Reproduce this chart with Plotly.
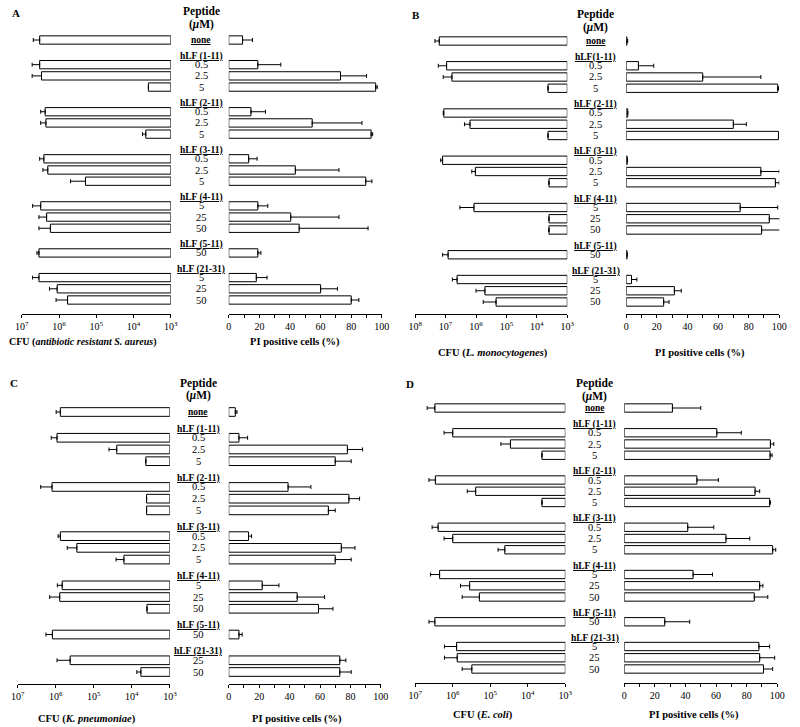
import math
import plotly.graph_objects as go

# ---------------- data ----------------
GROUPS_A = ["none", "hLF (1-11)", "hLF (2-11)", "hLF (3-11)", "hLF (4-11)", "hLF (5-11)", "hLF (21-31)"]
CONC_A = [[""], ["0.5", "2.5", "5"], ["0.5", "2.5", "5"], ["0.5", "2.5", "5"], ["5", "25", "50"], ["50"], ["5", "25", "50"]]
CFU_A = [3.3e6, 3.3e6, 2.95e6, 4.0e3, 2.35e6, 2.25e6, 4.7e3, 2.55e6, 2.0e6, 1.95e5, 3.1e6, 2.15e6, 1.7e6, 3.45e6, 3.45e6, 1.12e6, 5.9e5]
CFU_A_HI = [4.9e6, 5.25e6, 5.25e6, 4.0e3, 3.1e6, 3.1e6, 5.75e3, 3.3e6, 2.7e6, 4.9e5, 5.1e6, 3.45e6, 3.45e6, 3.9e6, 5.1e6, 1.8e6, 1.2e6]
PI_A = [9, 19, 73, 96, 14.5, 54.5, 93, 13, 43.5, 89.5, 19, 40.5, 46, 19, 18, 60, 80]
PI_A_HI = [15.5, 34, 90, 97, 24, 87, 94, 18.5, 72, 93.5, 25.5, 72, 91, 21, 25, 71, 85]

GROUPS_B = ["none", "hLF(1-11)", "hLF (2-11)", "hLF (3-11)", "hLF (4-11)", "hLF (5-11)", "hLF (21-31)"]
CONC_B = [[""], ["0.5", "2.5", "5"], ["0.5", "2.5", "5"], ["0.5", "2.5", "5"], ["5", "25", "50"], ["50"], ["5", "25", "50"]]
CFU_B = [1.62e7, 9.3e6, 6.2e6, 4.3e3, 1.15e7, 1.58e6, 4.3e3, 1.26e7, 1.05e6, 4.0e3, 1.17e6, 4.0e3, 4.0e3, 8.3e6, 4.2e6, 5.1e5, 2.2e5]
CFU_B_HI = [2.24e7, 1.74e7, 1.2e7, 4.3e3, 1.2e7, 2.4e6, 4.3e3, 1.45e7, 1.38e6, 4.0e3, 3.4e6, 4.0e3, 4.0e3, 1.26e7, 6.0e6, 1.0e6, 5.8e5]
PI_B = [0.5, 8, 50, 99, 1, 70, 99.5, 0.7, 88, 97.5, 74.5, 93.5, 88.5, 0.6, 3.5, 31.5, 24.5]
PI_B_HI = [1, 18, 88, 99.5, 1, 78.5, 99.5, 0.7, 100, 100, 99, 100.5, 101, 0.6, 7, 36, 28]

GROUPS_C = ["none", "hLF (1-11)", "hLF (2-11)", "hLF (3-11)", "hLF (4-11)", "hLF (5-11)", "hLF (21-31)"]
CONC_C = [[""], ["0.5", "2.5", "5"], ["0.5", "2.5", "5"], ["0.5", "2.5", "5"], ["5", "25", "50"], ["50"], ["25", "50"]]
CFU_C = [7.6e5, 9.3e5, 2.5e4, 4.3e3, 1.26e6, 4.1e3, 4.1e3, 7.6e5, 2.8e5, 1.62e4, 6.8e5, 7.9e5, 4.0e3, 1.23e6, 4.2e5, 5.8e3]
CFU_C_HI = [9.8e5, 1.32e6, 4.0e4, 4.3e3, 2.5e6, 4.1e3, 4.1e3, 8.7e5, 5.0e5, 2.6e4, 9.1e5, 1.45e6, 4.0e3, 1.82e6, 9.3e5, 7.4e3]
PI_C = [4.3, 6.7, 78, 70, 39, 79, 65.5, 13, 74, 70, 22, 45, 59, 6.7, 73, 73]
PI_C_HI = [5.4, 12.4, 88, 80.5, 54, 86, 70, 15, 83, 80.5, 33, 63, 68.5, 8.8, 77, 80.5]

GROUPS_D = ["none", "hLF (1-11)", "hLF (2-11)", "hLF (3-11)", "hLF (4-11)", "hLF (5-11)", "hLF (21-31)"]
CONC_D = [[""], ["0.5", "2.5", "5"], ["0.5", "2.5", "5"], ["0.5", "2.5", "5"], ["5", "25", "50"], ["50"], ["5", "25", "50"]]
CFU_D = [3.0e6, 1.0e6, 2.9e4, 4.2e3, 2.9e6, 2.45e5, 4.2e3, 2.45e6, 1.0e6, 4.1e4, 2.24e6, 3.55e5, 1.95e5, 3.0e6, 7.9e5, 7.6e5, 3.1e5]
CFU_D_HI = [4.8e6, 1.7e6, 5.2e4, 4.2e3, 4.3e6, 4.1e5, 4.2e3, 3.55e6, 1.7e6, 6.2e4, 3.9e6, 6.2e5, 5.6e5, 4.3e6, 1.66e6, 1.66e6, 5.6e5]
PI_D = [31.5, 60.5, 95.5, 95.3, 47.5, 85.5, 95, 41.5, 66.5, 97, 45, 88.5, 85, 26.5, 88, 88.5, 91]
PI_D_HI = [50, 76.5, 97.7, 96.6, 61.5, 88.5, 95.5, 58.5, 82, 99, 57.7, 90.6, 93.8, 42.8, 95, 98.3, 97]

CFU_TITLES = ["CFU (<i>antibiotic resistant S. aureus</i>)", "CFU (<i>L. monocytogenes</i>)",
              "CFU (<i>K. pneumoniae</i>)", "CFU (<i>E. coli</i>)"]
PI_TITLE = "PI positive cells (%)"
LETTERS = ["A", "B", "C", "D"]
LOG_TICKS_A = [1e7, 1e6, 1e5, 1e4, 1e3]
LOG_TICKS_B = [1e8, 1e7, 1e6, 1e5, 1e4, 1e3]

# ---------------- layout geometry (pixels) ----------------
W, H = 800, 727
FONT = "Liberation Serif, Times New Roman, serif"

PANELS = [
    dict(groups=GROUPS_A, conc=CONC_A, cfu=CFU_A, cfu_hi=CFU_A_HI, pi=PI_A, pi_hi=PI_A_HI,
         ticks=LOG_TICKS_A, left=(15, 167), right=(226, 382), none_px=40, last_px=300, axis_px=314, top_px=28,
         mid_x=198, letter=(9, 13), pep_y=12, title_y=342, cfu_x=77, pi_x=293),
    dict(groups=GROUPS_B, conc=CONC_B, cfu=CFU_B, cfu_hi=CFU_B_HI, pi=PI_B, pi_hi=PI_B_HI,
         ticks=LOG_TICKS_B, left=(416, 571), right=(631, 787), none_px=41, last_px=302, axis_px=314, top_px=29,
         mid_x=600, letter=(417, 15), pep_y=15, title_y=353, cfu_x=495, pi_x=706),
    dict(groups=GROUPS_C, conc=CONC_C, cfu=CFU_C, cfu_hi=CFU_C_HI, pi=PI_C, pi_hi=PI_C_HI,
         ticks=LOG_TICKS_A, left=(11, 166), right=(226, 381), none_px=412, last_px=672, axis_px=684, top_px=400,
         mid_x=195, letter=(7, 383), pep_y=383, title_y=719, cfu_x=82, pi_x=296),
    dict(groups=GROUPS_D, conc=CONC_D, cfu=CFU_D, cfu_hi=CFU_D_HI, pi=PI_D, pi_hi=PI_D_HI,
         ticks=LOG_TICKS_A, left=(416, 569), right=(629, 785), none_px=408, last_px=669, axis_px=683, top_px=396,
         mid_x=599, letter=(411, 384), pep_y=384, title_y=715, cfu_x=485, pi_x=700),
]

GROUP_GAP = 2.2
HEADER_OFFSET = 0.74
BAR_W = 0.74


def px_x(p):
    return p / W


def px_y(p):
    return 1 - p / H


def sup_label(v):
    e = int(round(math.log10(v)))
    return "10<sup>%d</sup>" % e


fig = go.Figure()
annotations = []
layout = {}

for i, P in enumerate(PANELS):
    yid = "" if i == 0 else str(i + 1)
    yname = "y" + yid
    xl = 2 * i + 1
    xr = 2 * i + 2
    xl_name = "x" + ("" if xl == 1 else str(xl))
    xr_name = "x" + str(xr)

    # row positions
    pos = []
    header_pos = []
    conc_labels = []
    cur = 0.0
    for g, concs in enumerate(P["conc"]):
        if g > 0:
            cur = pos[-1] + GROUP_GAP
        header_pos.append(cur if g == 0 else cur - HEADER_OFFSET)
        for k, c in enumerate(concs):
            pos.append(cur + k)
            conc_labels.append(c)
    last_pos = pos[-1]
    s = (P["last_px"] - P["none_px"]) / last_pos
    y_bottom = (P["axis_px"] - P["none_px"]) / s
    y_top = (P["top_px"] - P["none_px"]) / s

    layout["yaxis" + yid] = dict(domain=[px_y(P["axis_px"]), px_y(P["top_px"])],
                                 range=[y_bottom, y_top], visible=False, fixedrange=True)

    log_hi = round(math.log10(P["ticks"][0]))
    layout["xaxis" + ("" if xl == 1 else str(xl))] = dict(
        domain=[px_x(P["left"][0]), px_x(P["left"][1])], anchor=yname, type="log",
        range=[log_hi, 3], showline=True, linecolor="black", linewidth=1,
        ticks="outside", ticklen=3, tickcolor="black", tickwidth=1,
        tickvals=P["ticks"], ticktext=[sup_label(v) for v in P["ticks"]],
        tickfont=dict(family=FONT, size=10, color="black"),
        showgrid=False, zeroline=False, fixedrange=True)
    layout["xaxis" + str(xr)] = dict(
        domain=[px_x(P["right"][0]), px_x(P["right"][1])], anchor=yname,
        range=[0, 100], showline=True, linecolor="black", linewidth=1,
        ticks="outside", ticklen=3, tickcolor="black", tickwidth=1,
        tickmode="linear", tick0=0, dtick=20,
        minor=dict(ticks="outside", ticklen=3, tickcolor="black", dtick=10, tick0=0, showgrid=False),
        tickfont=dict(family=FONT, size=10, color="black"),
        showgrid=False, zeroline=False, fixedrange=True)

    base = [1e3] * len(P["cfu"])
    fig.add_trace(go.Bar(
        orientation="h", y=pos, x=[v - b for v, b in zip(P["cfu"], base)], base=base,
        xaxis=xl_name, yaxis=yname, width=BAR_W,
        marker=dict(color="white", line=dict(color="black", width=1)),
        error_x=dict(type="data", symmetric=False,
                     array=[h - v for h, v in zip(P["cfu_hi"], P["cfu"])],
                     arrayminus=[0] * len(P["cfu"]),
                     color="black", thickness=1, width=2),
        hoverinfo="skip"))
    fig.add_trace(go.Bar(
        orientation="h", y=pos, x=P["pi"],
        xaxis=xr_name, yaxis=yname, width=BAR_W,
        marker=dict(color="white", line=dict(color="black", width=1)),
        error_x=dict(type="data", symmetric=False,
                     array=[h - v for h, v in zip(P["pi_hi"], P["pi"])],
                     arrayminus=[0] * len(P["pi"]),
                     color="black", thickness=1, width=2),
        hoverinfo="skip"))

    # middle labels
    for g, name in enumerate(P["groups"]):
        annotations.append(dict(x=px_x(P["mid_x"]), xref="paper", y=header_pos[g], yref=yname,
                                text="<b><u>%s</u></b>" % name, showarrow=False,
                                font=dict(family=FONT, size=9.5, color="black"),
                                xanchor="center", yanchor="middle"))
    for p, c in zip(pos, conc_labels):
        if c:
            annotations.append(dict(x=px_x(P["mid_x"]), xref="paper", y=p, yref=yname,
                                    text=c, showarrow=False,
                                    font=dict(family=FONT, size=10.5, color="black"),
                                    xanchor="center", yanchor="middle"))
    annotations.append(dict(x=px_x(P["mid_x"]), xref="paper", y=px_y(P["pep_y"]), yref="paper",
                            text="<b>Peptide</b>", showarrow=False,
                            font=dict(family=FONT, size=11.5, color="black"),
                            xanchor="center", yanchor="middle"))
    annotations.append(dict(x=px_x(P["mid_x"]), xref="paper", y=px_y(P["pep_y"] + 12.5), yref="paper",
                            text="<b>(<i>\u03bc</i>M)</b>", showarrow=False,
                            font=dict(family=FONT, size=11.5, color="black"),
                            xanchor="center", yanchor="middle"))
    annotations.append(dict(x=px_x(P["letter"][0]), xref="paper", y=px_y(P["letter"][1]), yref="paper",
                            text="<b>%s</b>" % LETTERS[i], showarrow=False,
                            font=dict(family=FONT, size=11, color="black"),
                            xanchor="center", yanchor="middle"))
    annotations.append(dict(x=px_x(P["cfu_x"]), xref="paper", y=px_y(P["title_y"]), yref="paper",
                            text="<b>%s</b>" % CFU_TITLES[i], showarrow=False,
                            font=dict(family=FONT, size=10.5 if i else 10, color="black"),
                            xanchor="center", yanchor="middle"))
    annotations.append(dict(x=px_x(P["pi_x"]), xref="paper", y=px_y(P["title_y"]), yref="paper",
                            text="<b>%s</b>" % PI_TITLE, showarrow=False,
                            font=dict(family=FONT, size=10.5, color="black"),
                            xanchor="center", yanchor="middle"))

fig.update_layout(
    width=W, height=H, margin=dict(l=0, r=0, t=0, b=0),
    paper_bgcolor="white", plot_bgcolor="white",
    showlegend=False, barmode="overlay",
    font=dict(family=FONT, color="black"),
    annotations=annotations, **layout)

fig.write_html("out.html", config={"displayModeBar": False},
               post_script="document.body.style.margin='0';document.body.style.padding='0';")
